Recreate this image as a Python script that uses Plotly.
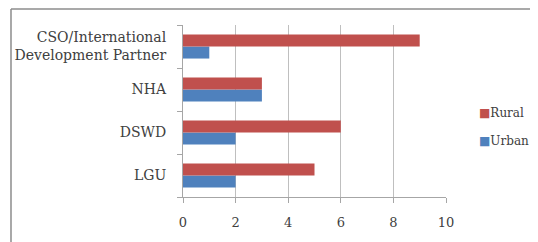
import plotly.graph_objects as go

categories = ["LGU", "DSWD", "NHA", "CSO/International<br>Development Partner"]
urban = [2, 2, 3, 1]
rural = [5, 6, 3, 9]
x_ticks = [0, 2, 4, 6, 8, 10]
colors = {"Rural": "#C0504D", "Urban": "#4F81BD"}

fig = go.Figure()
fig.add_trace(go.Bar(y=categories, x=urban, name="Urban", orientation="h",
                     marker=dict(color=colors["Urban"], line=dict(width=0))))
fig.add_trace(go.Bar(y=categories, x=rural, name="Rural", orientation="h",
                     marker=dict(color=colors["Rural"], line=dict(width=0))))

legend_items = [("Rural", 0.488), ("Urban", 0.326)]
annotations = [
    dict(xref="paper", yref="paper", x=1.12, y=yy, xanchor="left", yanchor="middle",
         showarrow=False, font=dict(size=12, color="#404040"), borderpad=0,
         text=f"<span style='color:{colors[nm]}'>■</span>{nm}")
    for nm, yy in legend_items
]

fig.update_layout(
    width=538, height=242,
    margin=dict(l=175, r=100, t=17, b=53, autoexpand=False),
    paper_bgcolor="white", plot_bgcolor="white",
    barmode="group", bargap=0.44, bargroupgap=0,
    font=dict(family="DejaVu Serif", size=13, color="#404040"),
    showlegend=False,
    annotations=annotations,
    shapes=[
        dict(type="line", xref="paper", yref="paper", x0=-0.654, x1=1.5, y0=1.093, y1=1.093,
             line=dict(color="#8c8c8c", width=1.5)),
        dict(type="line", xref="paper", yref="paper", x0=-0.654, x1=-0.654, y0=1.093, y1=-0.5,
             line=dict(color="#8c8c8c", width=1.5)),
    ],
)
fig.update_xaxes(range=[0, 10], tickvals=x_ticks, showgrid=True, gridcolor="#BFBFBF", gridwidth=1,
                 showline=True, linecolor="#A6A6A6", linewidth=1, ticks="outside", ticklen=5,
                 tickcolor="#A6A6A6", zeroline=False, fixedrange=True, automargin=False,
                 ticklabelstandoff=8)
fig.update_yaxes(type="category", categoryorder="array", categoryarray=categories,
                 showline=True, linecolor="#A6A6A6", linewidth=1, ticks="outside", ticklen=5,
                 tickcolor="#A6A6A6", tickson="boundaries", showgrid=False, ticklabelstandoff=13,
                 automargin=False, tickfont=dict(size=14))

fig.write_html("out.html")
